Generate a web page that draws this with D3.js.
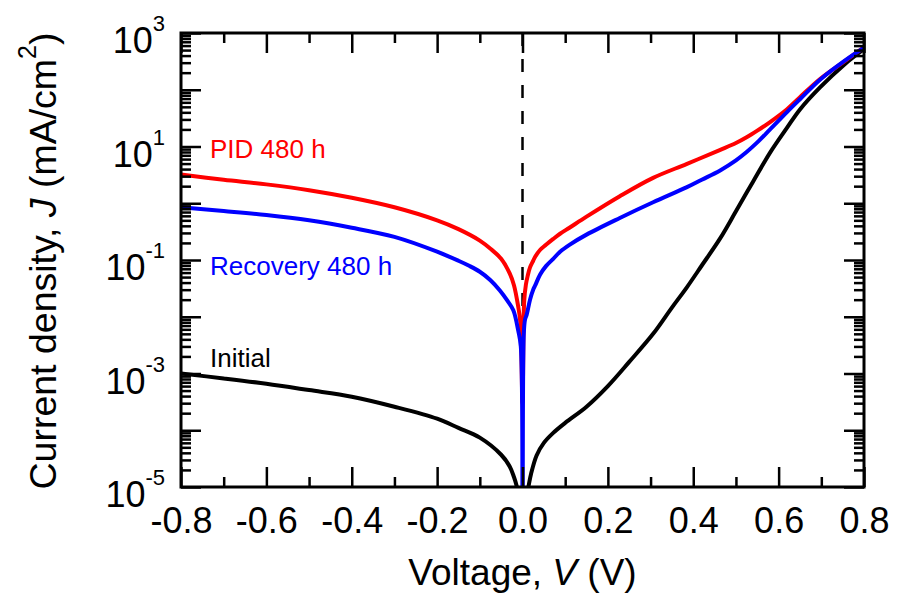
<!DOCTYPE html>
<html>
<head>
<meta charset="utf-8">
<script src="https://cdn.jsdelivr.net/npm/d3@7"></script>
<style>
  body { margin: 0; background: #fff; }
  text { font-family: "Liberation Sans", Arial, sans-serif; }
</style>
</head>
<body>
<div id="chart"></div>
<script>
/**
 * DATA
 * */
const pidV = [-0.8, -0.7, -0.6, -0.5, -0.4, -0.3, -0.2, -0.15, -0.1, -0.075, -0.05, -0.03, -0.02, -0.01, -0.005, 0,
  0.004, 0.008, 0.012, 0.0176, 0.025, 0.03, 0.041, 0.055, 0.072, 0.088, 0.11, 0.15, 0.228, 0.306, 0.384, 0.462, 0.5, 0.525, 0.55, 0.58, 0.619, 0.65, 0.697, 0.755, 0.8];
const pidJ = [3.2, 2.6, 2.15, 1.7, 1.25, 0.85, 0.5, 0.35, 0.22, 0.158, 0.105, 0.058, 0.036, 0.015, 0.008, 3e-4,
  0.019, 0.037, 0.052, 0.074, 0.097, 0.115, 0.15, 0.185, 0.235, 0.29, 0.37, 0.58, 1.33, 2.8, 4.9, 8.65, 11.5, 14.5, 19, 27, 45, 74, 155, 320, 560];

const recV = [-0.8, -0.7, -0.6, -0.5, -0.4, -0.3, -0.2, -0.15, -0.125, -0.1, -0.075, -0.053, -0.035, -0.0215, -0.01, -0.004, 0,
  0.003, 0.006, 0.01, 0.0176, 0.025, 0.03, 0.041, 0.055, 0.072, 0.088, 0.11, 0.15, 0.228, 0.306, 0.384, 0.42, 0.462, 0.5, 0.525, 0.55, 0.58, 0.619, 0.65, 0.697, 0.755, 0.8];
const recJ = [0.85, 0.73, 0.62, 0.5, 0.37, 0.255, 0.14, 0.097, 0.079, 0.062, 0.044, 0.029, 0.019, 0.013, 0.0057, 0.003, 1e-6,
  0.005, 0.009, 0.011, 0.02, 0.03, 0.036, 0.055, 0.078, 0.105, 0.14, 0.185, 0.28, 0.55, 1.04, 1.9, 2.6, 3.75, 5.7, 8.0, 11.8, 20, 40, 68, 150, 325, 550];

const iniV = [-0.8, -0.7, -0.6, -0.5, -0.4, -0.3, -0.2, -0.15, -0.1, -0.05, -0.03, -0.02, -0.013, -0.005, 0,
  0.005, 0.0137, 0.02, 0.033, 0.05, 0.072, 0.1, 0.15, 0.2, 0.25, 0.306, 0.35, 0.385, 0.42, 0.463, 0.5, 0.54, 0.58, 0.619, 0.65, 0.697, 0.755, 0.8];
const iniJ = [1.0e-3, 8.2e-4, 6.6e-4, 5.1e-4, 3.9e-4, 2.6e-4, 1.6e-4, 1.1e-4, 7.4e-5, 3.7e-5, 2.3e-5, 1.5e-5, 1e-5, 5e-6, 3e-6,
  5e-6, 1e-5, 1.7e-5, 3.6e-5, 6e-5, 9e-5, 1.35e-4, 2.6e-4, 6e-4, 1.6e-3, 5e-3, 0.0145, 0.033, 0.08, 0.24, 0.72, 2.4, 7.8, 21, 45, 110, 282, 520];

const seriesNames = ["Initial", "PID 480 h", "Recovery 480 h"];
const seriesColors = ["#000000", "#ff0000", "#0000ff"];

const xMajor = [-0.8, -0.6, -0.4, -0.2, 0.0, 0.2, 0.4, 0.6, 0.8];
const xMinor = [-0.7, -0.5, -0.3, -0.1, 0.1, 0.3, 0.5, 0.7];
const yLabelExps = [3, 1, -1, -3, -5];

/**
 * CONSTANTS
 * */
const width = 897, height = 603;
const margin = { top: 33, right: 33, bottom: 116, left: 181 };
const innerW = width - margin.left - margin.right,
  innerH = height - margin.top - margin.bottom;

const svg = d3.select("#chart").append("svg")
  .attr("width", width).attr("height", height);

const g = svg.append("g").attr("transform", `translate(${margin.left},${margin.top})`);

const x = d3.scaleLinear().domain([-0.8, 0.8]).range([0, innerW]);
const y = d3.scaleLog().domain([1e-5, 1e3]).range([innerH, 0]);

// decade + minor tick values
const yMajor = d3.range(-5, 4).map(e => Math.pow(10, e));
const yMinor = [];
for (let e = -5; e < 3; e++) for (let m = 2; m <= 9; m++) yMinor.push(m * Math.pow(10, e));

g.append("clipPath").attr("id", "clip")
  .append("rect").attr("width", innerW).attr("height", innerH);

// dashed zero line
g.append("line")
  .attr("x1", x(0)).attr("x2", x(0))
  .attr("y1", 0).attr("y2", innerH)
  .attr("stroke", "#000").attr("stroke-width", 2.5)
  .attr("stroke-dasharray", "13,13");

// curves
const series = [
  { v: iniV, j: iniJ },
  { v: pidV, j: pidJ },
  { v: recV, j: recJ },
];
const line = d3.line()
  .x(d => x(d[0]))
  .y(d => y(d[1]))
  .curve(d3.curveCatmullRom.alpha(0.5));

const curves = g.append("g").attr("clip-path", "url(#clip)");
series.forEach((s, i) => {
  curves.append("path")
    .datum(d3.zip(s.v, s.j))
    .attr("fill", "none")
    .attr("stroke", seriesColors[i])
    .attr("stroke-width", 4)
    .attr("stroke-linejoin", "round")
    .attr("d", line);
});

// axes (ticks point inward on all four sides)
function styleAxis(sel) {
  sel.selectAll("path").remove();
  sel.selectAll("line").attr("stroke", "#000").attr("stroke-width", 2.5);
}
const noLabel = () => "";

g.append("g").attr("transform", `translate(0,${innerH})`)
  .call(d3.axisBottom(x).tickValues(xMinor).tickSize(-10).tickFormat(noLabel)).call(styleAxis);
g.append("g").call(d3.axisTop(x).tickValues(xMinor).tickSize(-10).tickFormat(noLabel)).call(styleAxis);
g.append("g").call(d3.axisTop(x).tickValues(xMajor).tickSize(-20).tickFormat(noLabel)).call(styleAxis);

const xAxis = g.append("g").attr("transform", `translate(0,${innerH})`)
  .call(d3.axisBottom(x).tickValues(xMajor).tickSize(-20).tickPadding(0)
    .tickFormat(d => d3.format(".1f")(d).replace("\u2212", "-")))
  .call(styleAxis);
xAxis.selectAll("text")
  .attr("y", 46).attr("dy", 0)
  .attr("font-size", 36).attr("fill", "#000")
  .attr("font-family", "'Liberation Sans', Arial, sans-serif");

g.append("g").call(d3.axisLeft(y).tickValues(yMinor).tickSize(-10).tickFormat(noLabel)).call(styleAxis);
g.append("g").call(d3.axisLeft(y).tickValues(yMajor).tickSize(-20).tickFormat(noLabel)).call(styleAxis);
g.append("g").attr("transform", `translate(${innerW},0)`)
  .call(d3.axisRight(y).tickValues(yMinor).tickSize(-10).tickFormat(noLabel)).call(styleAxis);
g.append("g").attr("transform", `translate(${innerW},0)`)
  .call(d3.axisRight(y).tickValues(yMajor).tickSize(-20).tickFormat(noLabel)).call(styleAxis);

// frame
g.append("rect")
  .attr("width", innerW).attr("height", innerH)
  .attr("fill", "none").attr("stroke", "#000").attr("stroke-width", 3);

// y tick labels 10^n
const yLab = g.append("g").selectAll("text")
  .data(yLabelExps)
  .join("text")
  .attr("x", -16)
  .attr("y", d => y(Math.pow(10, d)) + 20)
  .attr("text-anchor", "end")
  .attr("font-size", 36);
yLab.append("tspan").text("10");
yLab.append("tspan").attr("dy", -22).attr("font-size", 22).text(d => d);

// series labels inside the plot
g.append("g").selectAll("text")
  .data(seriesNames)
  .join("text")
  .attr("x", 29)
  .attr("y", (d, i) => [334, 125, 242][i])
  .attr("font-size", 26)
  .attr("fill", (d, i) => seriesColors[i])
  .text(d => d);

// axis titles
const xt = svg.append("text")
  .attr("x", margin.left + x(0))
  .attr("y", 585)
  .attr("text-anchor", "middle")
  .attr("font-size", 37);
xt.append("tspan").text("Voltage, ");
xt.append("tspan").attr("font-style", "italic").text("V");
xt.append("tspan").text(" (V)");

const yt = svg.append("text")
  .attr("transform", `translate(56,${margin.top + innerH / 2 + 1}) rotate(-90)`)
  .attr("text-anchor", "middle")
  .attr("font-size", 37.5);
yt.append("tspan").text("Current density, ");
yt.append("tspan").attr("font-style", "italic").text("J");
yt.append("tspan").text(" (mA/cm");
yt.append("tspan").attr("dy", -20).attr("font-size", 25).text("2");
yt.append("tspan").attr("dy", 20).text(")");
</script>
</body>
</html>
